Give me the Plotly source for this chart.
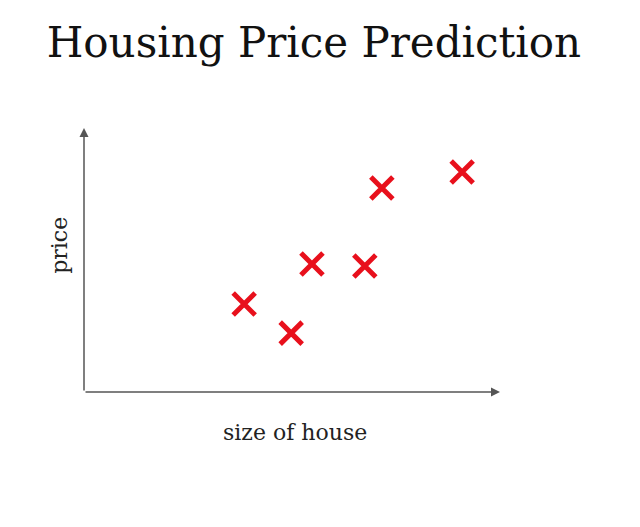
import plotly.graph_objects as go

# house size (arbitrary units) and price (arbitrary units)
size_of_house = [3.85, 4.98, 5.48, 6.75, 7.16, 9.09]
price = [3.33, 2.23, 4.85, 4.77, 7.73, 8.33]

title_text = "Housing Price Prediction"
x_label = "size of house"
y_label = "price"

serif = "DejaVu Serif, Liberation Serif, serif"

fig = go.Figure(
    go.Scatter(
        x=size_of_house,
        y=price,
        mode="markers",
        marker=dict(
            symbol="x-thin",
            size=22,
            color="#e8101c",
            line=dict(width=5, color="#e8101c"),
        ),
        hoverinfo="x+y",
    )
)

# axis lines drawn as arrows
arrow_style = dict(
    showarrow=True,
    arrowhead=2,
    arrowsize=1.2,
    arrowwidth=1.5,
    arrowcolor="#555555",
    text="",
    xref="x",
    yref="y",
    axref="x",
    ayref="y",
)

fig.update_layout(
    width=640,
    height=527,
    paper_bgcolor="white",
    plot_bgcolor="white",
    showlegend=False,
    margin=dict(l=76, r=148, t=120, b=143),
    title=dict(
        text=title_text,
        x=0.478,
        xanchor="center",
        y=0.934,
        yanchor="middle",
        font=dict(family=serif, size=42, color="#111111"),
    ),
    xaxis=dict(range=[0, 10], visible=False, fixedrange=True),
    yaxis=dict(range=[0, 10], visible=False, fixedrange=True),
    annotations=[
        dict(x=10, y=0, ax=0, ay=0, **arrow_style),
        dict(x=0, y=10, ax=0, ay=0, **arrow_style),
        dict(
            text=x_label,
            xref="paper",
            yref="paper",
            x=0.507,
            y=-0.152,
            xanchor="center",
            yanchor="middle",
            showarrow=False,
            font=dict(family=serif, size=22, color="#222222"),
        ),
        dict(
            text=y_label,
            xref="paper",
            yref="paper",
            x=-0.058,
            y=0.557,
            xanchor="center",
            yanchor="middle",
            textangle=-90,
            showarrow=False,
            font=dict(family=serif, size=22, color="#222222"),
        ),
    ],
)

fig.write_html("out.html")
